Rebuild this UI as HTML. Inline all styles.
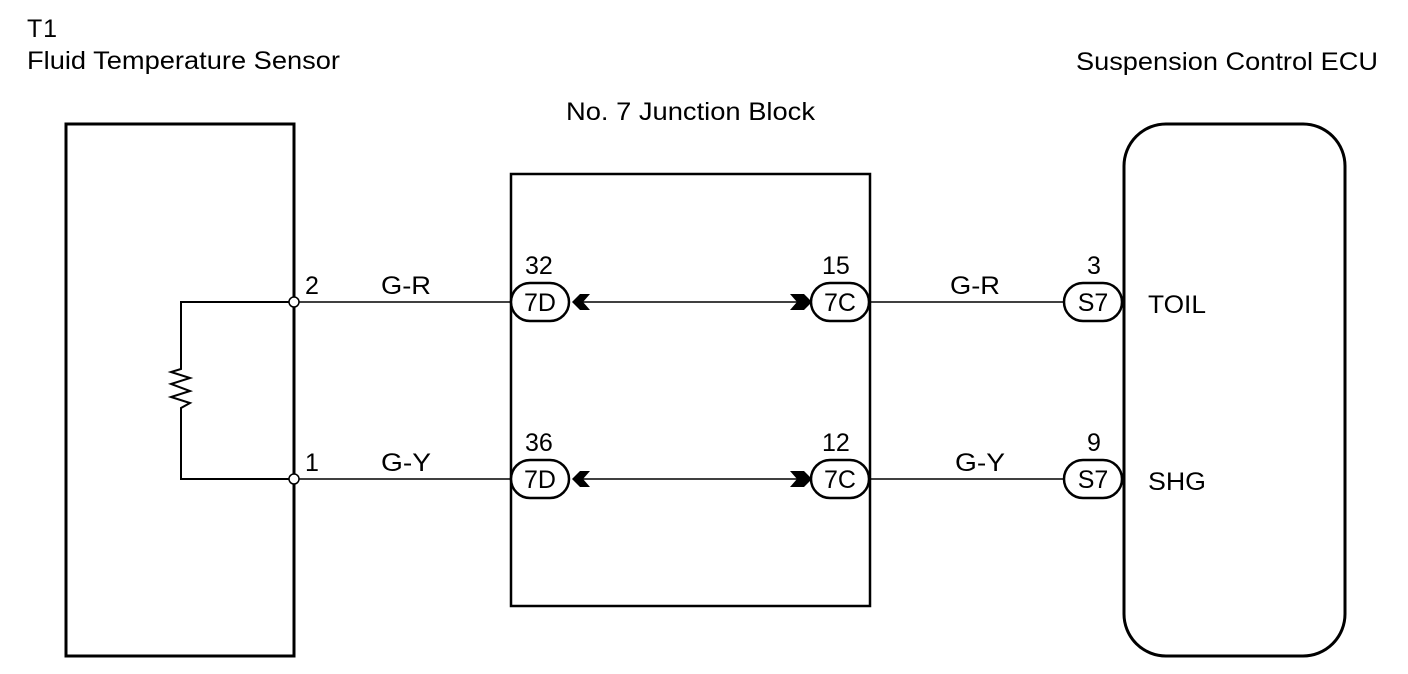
<!DOCTYPE html>
<html><head><style>body{margin:0;background:#fff}svg{display:block}</style></head><body>
<svg width="1408" height="674" xmlns="http://www.w3.org/2000/svg" font-family="Liberation Sans, Arial, sans-serif" font-size="25" fill="#000">
<g fill="none" stroke="#000">
<rect x="66" y="124" width="228" height="532" stroke-width="3"/>
<rect x="511" y="174" width="359" height="432" stroke-width="2.5"/>
<rect x="1124" y="124" width="221" height="532" rx="42" ry="42" stroke-width="3"/>
<polyline points="294,302 181,302 181,369 171,372 190,378 171,384 190,391 171,397 190,403 181,408 181,479 294,479" stroke-width="2"/>
<line x1="294" y1="302" x2="511" y2="302" stroke-width="1.5"/>
<line x1="294" y1="479" x2="511" y2="479" stroke-width="1.5"/>
<line x1="580" y1="302" x2="800" y2="302" stroke-width="1.5"/>
<line x1="580" y1="479" x2="800" y2="479" stroke-width="1.5"/>
<line x1="870" y1="302" x2="1065" y2="302" stroke-width="1.5"/>
<line x1="870" y1="479" x2="1065" y2="479" stroke-width="1.5"/>
<rect x="511" y="283" width="58" height="38" rx="19" fill="#fff" stroke-width="2.5"/>
<rect x="811" y="283" width="58" height="38" rx="19" fill="#fff" stroke-width="2.5"/>
<rect x="1064" y="283" width="58" height="38" rx="19" fill="#fff" stroke-width="2.5"/>
<rect x="511" y="460" width="58" height="38" rx="19" fill="#fff" stroke-width="2.5"/>
<rect x="811" y="460" width="58" height="38" rx="19" fill="#fff" stroke-width="2.5"/>
<rect x="1064" y="460" width="58" height="38" rx="19" fill="#fff" stroke-width="2.5"/>
<circle cx="294" cy="302" r="5" fill="#fff" stroke-width="1.5"/>
<circle cx="294" cy="479" r="5" fill="#fff" stroke-width="1.5"/>
</g>
<polygon points="572,302 580,294 590,294 583,302 590,310 580,310"/>
<polygon points="572,479 580,471 590,471 583,479 590,487 580,487"/>
<polygon points="812,302 804,294 790,294 797,302 790,310 804,310"/>
<polygon points="812,479 804,471 790,471 797,479 790,487 804,487"/>
<text x="27" y="37" textLength="30">T1</text>
<text x="27" y="69" textLength="313" lengthAdjust="spacingAndGlyphs">Fluid Temperature Sensor</text>
<text x="1076" y="70" textLength="302" lengthAdjust="spacingAndGlyphs">Suspension Control ECU</text>
<text x="566" y="120" textLength="249" lengthAdjust="spacingAndGlyphs">No. 7 Junction Block</text>
<text x="305" y="294">2</text>
<text x="305" y="471">1</text>
<text x="381" y="294" textLength="50" lengthAdjust="spacingAndGlyphs">G-R</text>
<text x="381" y="471" textLength="50" lengthAdjust="spacingAndGlyphs">G-Y</text>
<text x="950" y="294" textLength="50" lengthAdjust="spacingAndGlyphs">G-R</text>
<text x="955" y="471" textLength="50" lengthAdjust="spacingAndGlyphs">G-Y</text>
<text x="525" y="274">32</text>
<text x="525" y="451">36</text>
<text x="822" y="274">15</text>
<text x="822" y="451">12</text>
<text x="1087" y="274">3</text>
<text x="1087" y="451">9</text>
<text x="540" y="311" text-anchor="middle">7D</text>
<text x="540" y="488" text-anchor="middle">7D</text>
<text x="840" y="311" text-anchor="middle">7C</text>
<text x="840" y="488" text-anchor="middle">7C</text>
<text x="1093" y="311" text-anchor="middle">S7</text>
<text x="1093" y="488" text-anchor="middle">S7</text>
<text x="1148" y="313" textLength="58" lengthAdjust="spacingAndGlyphs">TOIL</text>
<text x="1148" y="490" textLength="58" lengthAdjust="spacingAndGlyphs">SHG</text>
</svg>
</body></html>
